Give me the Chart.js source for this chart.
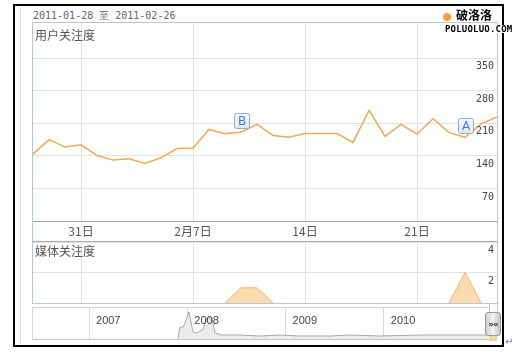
<!DOCTYPE html>
<html><head><meta charset="utf-8">
<script src="https://cdn.jsdelivr.net/npm/chart.js@4.4.1/dist/chart.umd.min.js"></script>
<style>
html,body{margin:0;padding:0;background:#fff;width:525px;height:359px;overflow:hidden;position:relative;}
.a{position:absolute;}
canvas{position:absolute;display:block;}
</style></head><body>
<div class="a" style="left:13px;top:4px;width:491px;height:343px;border:2px solid #000;box-sizing:border-box;"></div>
<div class="a" style="left:20px;top:6px;width:1px;height:338px;background:#DCE3EB;"></div>
<div class="a" style="left:33px;top:9px;font:10px 'DejaVu Sans Mono';color:#666;white-space:nowrap;">2011-01-28 至 2011-02-26</div>

<canvas id="c1" width="464" height="218" style="left:33px;top:23px;"></canvas>
<canvas id="c2" width="464" height="61" style="left:33px;top:242px;"></canvas>
<canvas id="c3" width="456" height="31" style="left:33px;top:308px;"></canvas>

<div class="a" style="left:32px;top:22px;width:466px;height:282px;border:1px solid #B5C7DC;box-sizing:border-box;"></div>
<div class="a" style="left:33px;top:241px;width:464px;height:1px;background:#A9AEB5;"></div>
<div class="a" style="left:32px;top:307px;width:458px;height:33px;border:1px solid #D6D6D6;border-bottom-color:#C4C4C4;box-sizing:border-box;"></div>
<div class="a" style="left:489px;top:303px;width:1px;height:36px;background:#B5C7DC;"></div>
<div class="a" style="left:497px;top:303px;width:1px;height:10px;background:#B5C7DC;"></div>
<div class="a" style="left:489px;top:336px;width:8px;height:5px;background:#F8D3A2;"></div>
<div class="a" style="left:485px;top:312px;width:16px;height:24px;border:1px solid #9A9A9A;border-radius:3px;box-sizing:border-box;background:linear-gradient(to right,#cfcfcf,#f7f7f7 50%,#c6c6c6);font:bold 9px 'DejaVu Sans';color:#333;text-align:center;line-height:22px;letter-spacing:-1px;">»«</div>

<div class="a" style="left:35px;top:28px;font:12px 'Noto Sans CJK SC';color:#555;line-height:14px;">用户关注度</div>
<div class="a" style="left:35px;top:244px;font:12px 'Noto Sans CJK SC';color:#555;line-height:14px;">媒体关注度</div>

<div class="a" style="left:443px;top:13px;width:8px;height:8px;border-radius:50%;background:#F5A235;"></div>
<div class="a" style="left:454px;top:8px;font:bold 12px 'Noto Sans CJK SC';color:#000;background:#fff;line-height:14px;padding-left:2px;">破洛洛</div>
<div class="a" style="left:445px;top:25px;font:bold 9px 'DejaVu Sans Mono';color:#000;background:#fff;line-height:8px;letter-spacing:0.2px;">POLUOLUO.COM</div>
<div class="a" style="left:505px;top:336px;font:10px 'DejaVu Sans';color:#888;">↵</div>

<script>
// ---- data ----
const days = ['1月28日','1月29日','1月30日','1月31日','2月1日','2月2日','2月3日','2月4日','2月5日','2月6日',
  '2月7日','2月8日','2月9日','2月10日','2月11日','2月12日','2月13日','2月14日','2月15日','2月16日',
  '2月17日','2月18日','2月19日','2月20日','2月21日','2月22日','2月23日','2月24日','2月25日','2月26日'];
const userValues = [144,175,159,164,141,131,134,124,136,156,157,197,188,191,208,184,180,188,188,188,169,238,182,208,187,220,190,180,209,224];
const mediaValues = [0,0,0,0,0,0,0,0,0,0,0,0,0,1,1,0,0,0,0,0,0,0,0,0,0,0,0,2,0,0];
const xTickIndex = [3,10,17,24];
const xTickLabels = ['31日','2月7日','14日','21日'];
const userTicks = [70,140,210,280,350];
const mediaTicks = [2,4];
const flagLetters = ['B','A'];
const flagIndex = [13,27];
const navYears = [2007.905,2007.925,2007.960,2008.017,2008.058,2008.088,2008.159,2008.200,2008.251,2008.281,2008.353,2008.536,2008.739,2008.942,2009.146,2009.451,2009.654,2009.959,2010.366,2010.773,2011.068];
const navValues = [0,12,12,27,7,6,9,21,21,6,4,4,3,4,3,3,4,3,4,4,4];
const navYearTicks = [2007,2008,2009,2010];

const grid = '#E2E2E2';
// right-aligned y labels drawn inside the plot, just below each grid line
const insideYLabels = {
  id:'insideYLabels',
  afterDraw(chart){
    const {ctx, chartArea, scales:{y}} = chart;
    ctx.save();
    ctx.fillStyle='#444';ctx.font='10px "DejaVu Sans Mono"';
    ctx.textAlign='right';ctx.textBaseline='middle';
    y.ticks.forEach(t=>{ ctx.fillText(String(t.value), chartArea.right-3, y.getPixelForValue(t.value)+8.5); });
    ctx.restore();
  }
};
const flagPlugin = {
  id:'flags',
  afterDatasetsDraw(chart){
    const {ctx, scales:{x,y}} = chart;
    ctx.save();
    flagIndex.forEach((idx,i)=>{
      const px = x.getPixelForValue(idx);
      const py = y.getPixelForValue(userValues[idx]) - 12;
      const w=15,h=15,l=Math.round(px-w/2)+0.5,t=Math.round(py-h/2)+0.5,r=2;
      ctx.beginPath();
      ctx.moveTo(l+r,t);ctx.lineTo(l+w-r,t);ctx.quadraticCurveTo(l+w,t,l+w,t+r);
      ctx.lineTo(l+w,t+h-r);ctx.quadraticCurveTo(l+w,t+h,l+w-r,t+h);
      ctx.lineTo(l+r,t+h);ctx.quadraticCurveTo(l,t+h,l,t+h-r);
      ctx.lineTo(l,t+r);ctx.quadraticCurveTo(l,t,l+r,t);
      const g = ctx.createLinearGradient(0,t,0,t+h);
      g.addColorStop(0,'#F6F9FD');g.addColorStop(1,'#DCE6F3');
      ctx.fillStyle=g;ctx.fill();
      ctx.strokeStyle='#98AFCB';ctx.lineWidth=1;ctx.stroke();
      ctx.fillStyle='#4A7CC0';ctx.font='12px "DejaVu Sans"';
      ctx.textAlign='center';ctx.textBaseline='middle';
      ctx.fillText(flagLetters[i], l+w/2, t+h/2+0.5);
    });
    ctx.restore();
  }
};

const pts = userValues.map((v,i)=>({x:i,y:v}));
new Chart(document.getElementById('c1'),{
  type:'line',
  data:{datasets:[{data:pts,borderColor:'#EFAA52',borderWidth:1.5,pointRadius:0,tension:0,fill:false}]},
  options:{
    responsive:false,animation:false,
    layout:{padding:0},
    plugins:{legend:{display:false},tooltip:{enabled:false}},
    scales:{
      x:{type:'linear',min:0,max:days.length-1,
        afterBuildTicks:s=>{s.ticks=xTickIndex.map(v=>({value:v}));},
        afterFit:s=>{s.height=20;},
        ticks:{callback:(v,i)=>xTickLabels[i],autoSkip:false,maxRotation:0,padding:3,color:'#555',font:{family:'Noto Sans CJK SC',size:12}},
        grid:{color:grid,drawTicks:false},
        border:{color:'#A3A3A3'}},
      y:{position:'right',min:0,max:426,
        afterBuildTicks:s=>{s.ticks=userTicks.map(v=>({value:v}));},
        afterFit:s=>{s.width=0;},
        ticks:{display:false},
        grid:{color:grid,drawTicks:false},
        border:{display:false}}
    }
  },
  plugins:[flagPlugin, insideYLabels]
});

new Chart(document.getElementById('c2'),{
  type:'line',
  data:{datasets:[{data:mediaValues.map((v,i)=>({x:i,y:v})),borderColor:'#F2B466',backgroundColor:'#FBDCAE',
    borderWidth:1,pointRadius:0,tension:0,fill:'origin',
    segment:{borderColor:c=>(c.p0.parsed.y===0&&c.p1.parsed.y===0)?'rgba(0,0,0,0)':undefined}}]},
  options:{
    responsive:false,animation:false,layout:{padding:0},
    plugins:{legend:{display:false},tooltip:{enabled:false}},
    scales:{
      x:{type:'linear',min:0,max:days.length-1,
        afterBuildTicks:s=>{s.ticks=xTickIndex.map(v=>({value:v}));},
        afterFit:s=>{s.height=0;},
        ticks:{display:false},grid:{color:grid,drawTicks:false},border:{display:false}},
      y:{position:'right',min:0,max:4,
        afterBuildTicks:s=>{s.ticks=mediaTicks.map(v=>({value:v}));},
        afterFit:s=>{s.width=0;},
        ticks:{display:false},
        grid:{color:grid,drawTicks:false},border:{display:false}}
    }
  },
  plugins:[insideYLabels]
});

const yearLabelPlugin = {
  id:'yearLabels',
  afterDraw(chart){
    const {ctx, scales:{x}} = chart;
    ctx.save();
    ctx.fillStyle='#444';ctx.font='11px "Liberation Sans"';
    ctx.textAlign='left';ctx.textBaseline='middle';
    navYearTicks.forEach(yr=>{ ctx.fillText(String(yr), x.getPixelForValue(yr)+7, 12.5); });
    ctx.restore();
  }
};
new Chart(document.getElementById('c3'),{
  type:'line',
  data:{datasets:[{data:navYears.map((v,i)=>({x:v,y:navValues[i]})),borderColor:'#A9A9A9',backgroundColor:'#ECECEC',
    borderWidth:1,pointRadius:0,tension:0,fill:'origin'}]},
  options:{
    responsive:false,animation:false,layout:{padding:0},
    plugins:{legend:{display:false},tooltip:{enabled:false}},
    scales:{
      x:{type:'linear',min:2006.43,max:2011.07,
        afterBuildTicks:s=>{s.ticks=navYearTicks.map(v=>({value:v}));},
        afterFit:s=>{s.height=0;},
        ticks:{display:false},grid:{color:'#DADADA',drawTicks:false},border:{display:false}},
      y:{min:0,max:31,display:false}
    }
  },
  plugins:[yearLabelPlugin]
});
</script>
</body></html>
